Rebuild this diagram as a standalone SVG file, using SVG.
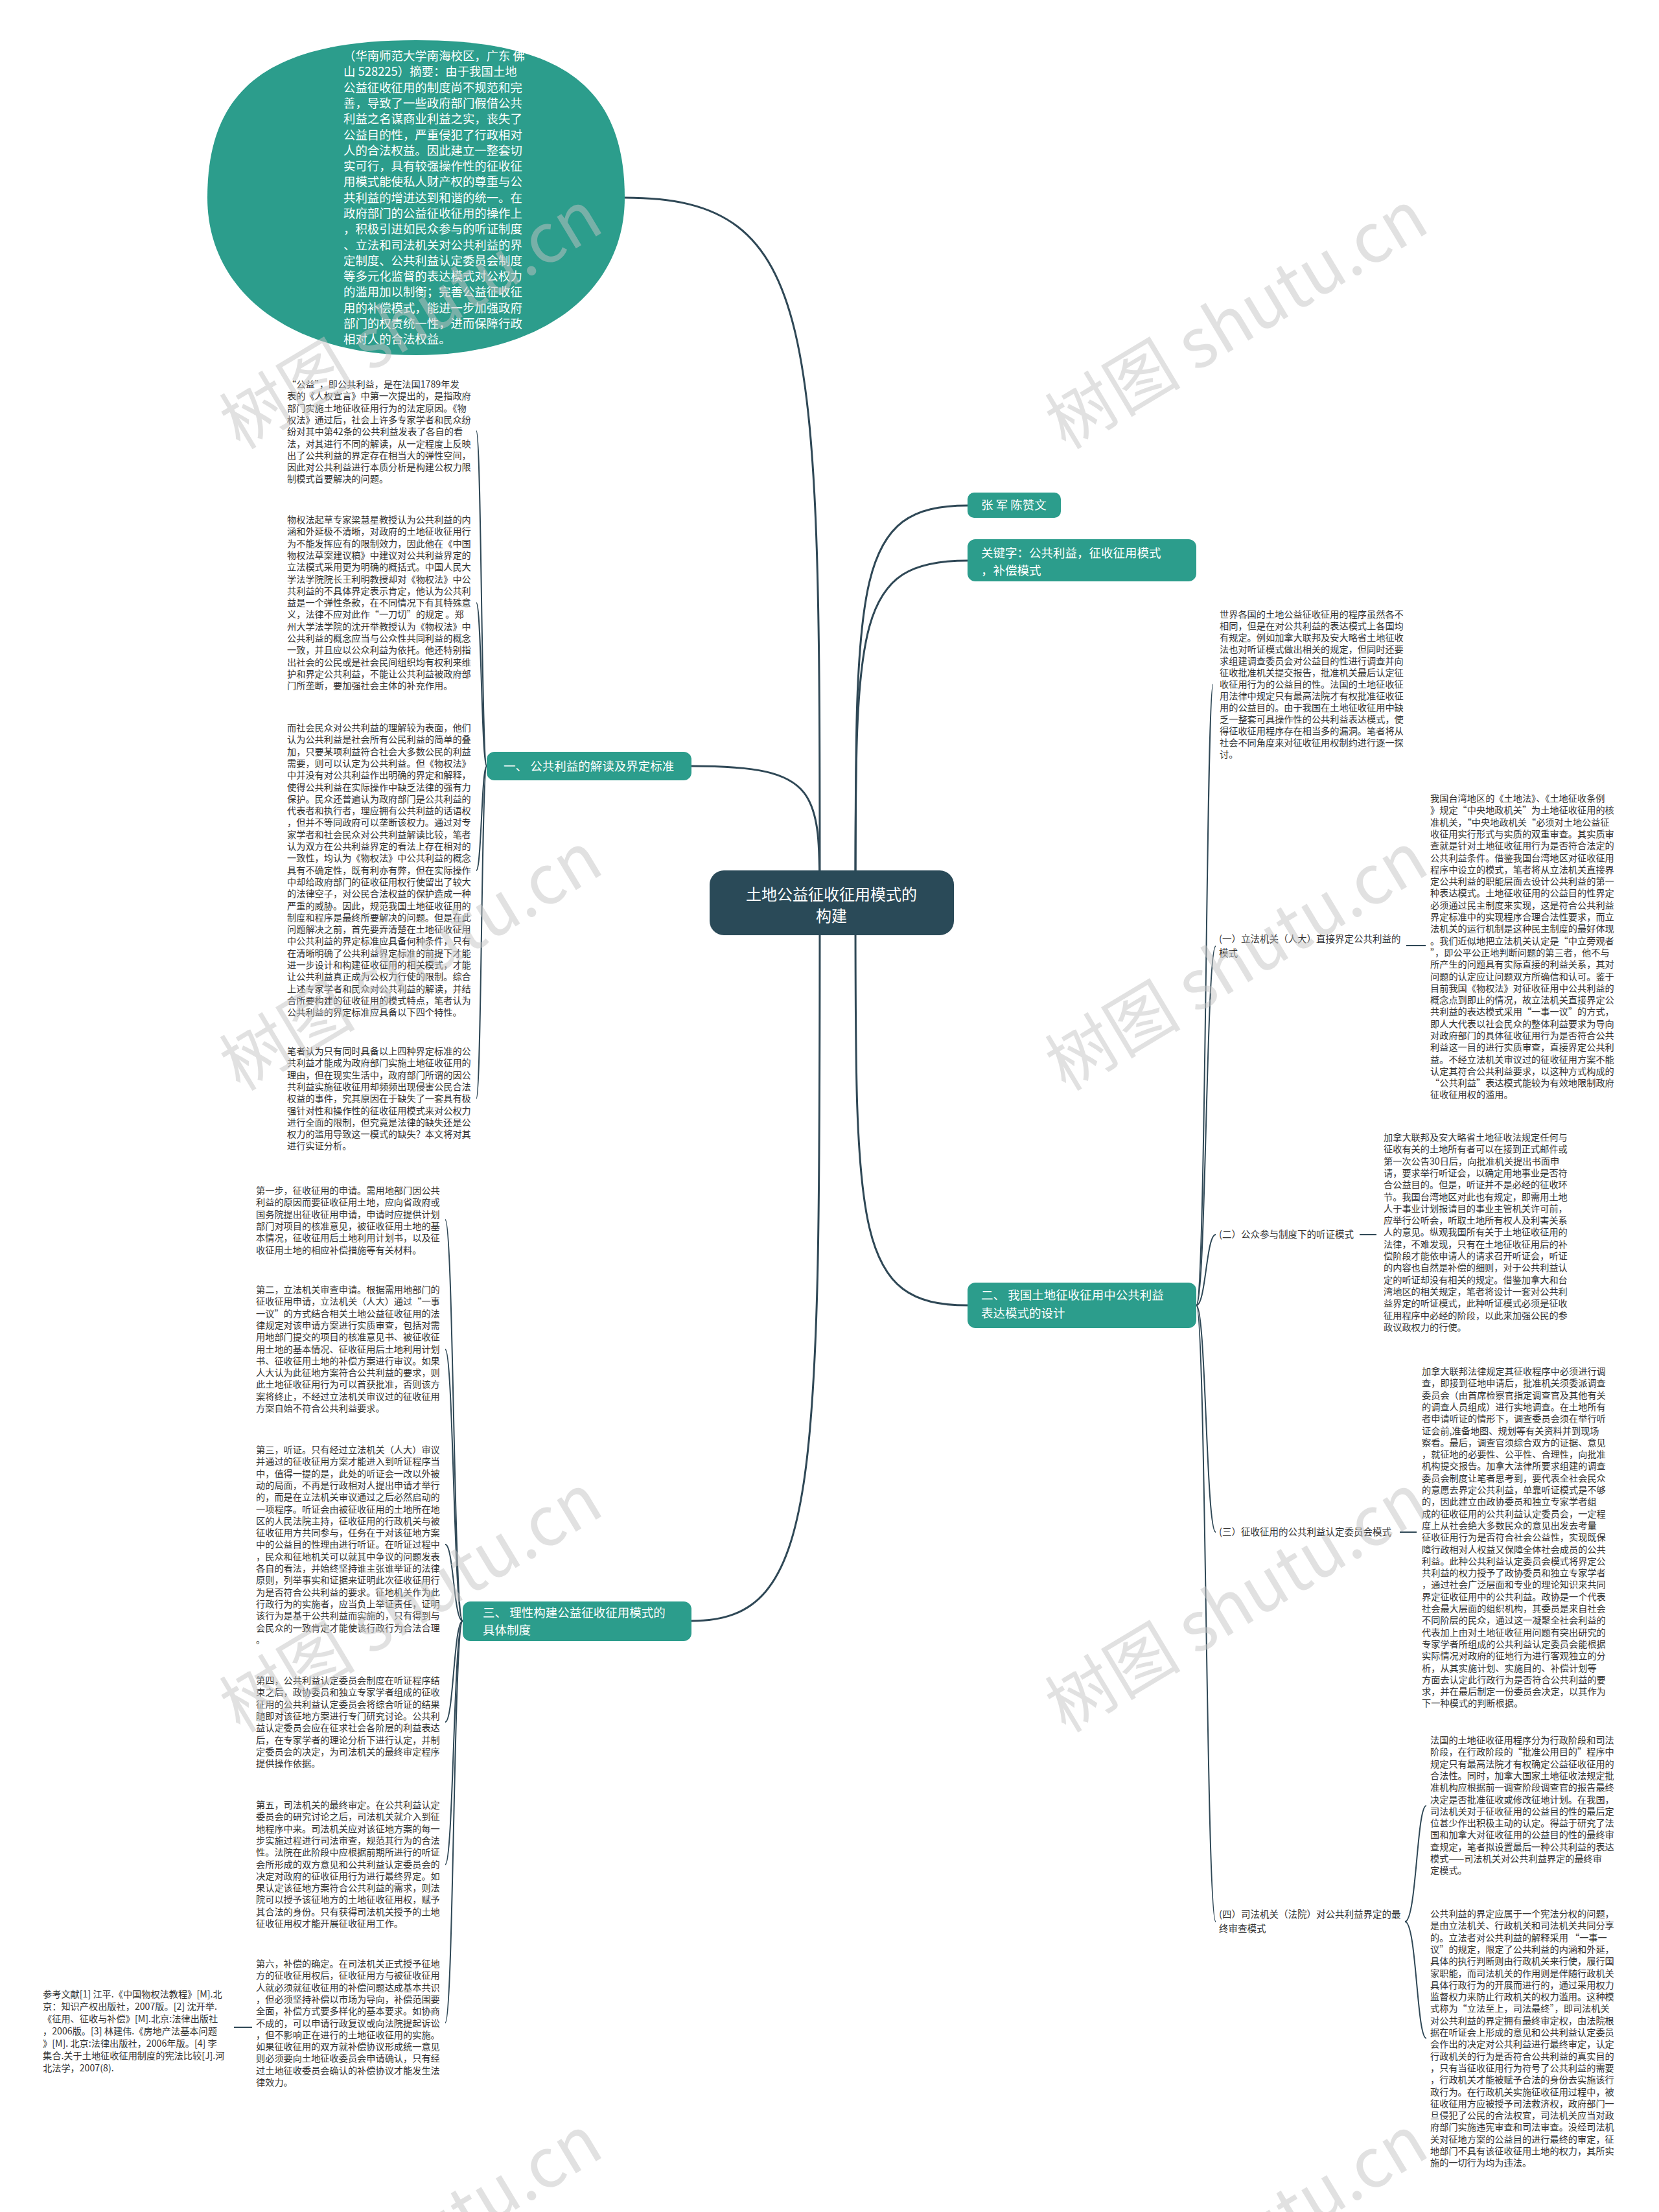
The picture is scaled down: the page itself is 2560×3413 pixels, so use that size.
<svg xmlns="http://www.w3.org/2000/svg" width="2560" height="3413" viewBox="0 0 2560 3413">
<style>
.t{font-family:"Noto Sans CJK SC","Noto Sans",sans-serif;font-size:14.2px;fill:#333}
.lb{font-family:"Noto Sans CJK SC","Noto Sans",sans-serif;font-size:14.5px;fill:#333}
.nt{font-family:"Noto Sans CJK SC","Noto Sans",sans-serif;font-size:18.5px;fill:#fff}
.et{font-family:"Noto Sans CJK SC","Noto Sans",sans-serif;font-size:18.4px;fill:#fff}
.rt{font-family:"Noto Sans CJK SC","Noto Sans",sans-serif;font-size:24px;fill:#fff}
.ln{fill:none;stroke:#2f4856;stroke-width:2}
.lr{fill:none;stroke:#2f4856;stroke-width:3}
.tn{fill:#2c9d8c}
.wm{font-family:"Noto Sans CJK SC","Noto Sans",sans-serif;font-size:105px;fill:#c4c4c4;opacity:.5}
</style>
<rect width="2560" height="3413" fill="#fff"/>
<g id="connectors">
<path class="lr" d="M1265 1393 C1265 501 1265 305 964 305"/>
<path class="lr" d="M1265 1393 C1265 1220 1265 1182 1067 1182"/>
<path class="lr" d="M1265 1393 C1265 2302 1265 2501 1067 2501"/>
<path class="lr" d="M1320 1393 C1320 890 1320 780 1493 780"/>
<path class="lr" d="M1320 1393 C1320 960 1320 865 1493 865"/>
<path class="lr" d="M1320 1393 C1320 1902 1320 2014 1493 2014"/>
<path class="ln" d="M751 1182 C743 1182 743 665 735 665"/>
<path class="ln" d="M751 1182 C743 1182 743 930 735 930"/>
<path class="ln" d="M751 1182 C743 1182 743 1343 735 1343"/>
<path class="ln" d="M751 1182 C743 1182 743 1695 735 1695"/>
<path class="ln" d="M714 2501 C700 2501 700 1882 687 1882"/>
<path class="ln" d="M714 2501 C700 2501 700 2082 687 2082"/>
<path class="ln" d="M714 2501 C700 2501 700 2383 687 2383"/>
<path class="ln" d="M714 2501 C700 2501 700 2657 687 2657"/>
<path class="ln" d="M714 2501 C700 2501 700 2877 687 2877"/>
<path class="ln" d="M714 2501 C700 2501 700 3121 687 3121"/>
<path class="ln" d="M389 3128 L361 3128"/>
<path class="ln" d="M1846 2014 C1861 2014 1861 1056 1872 1056"/>
<path class="ln" d="M1846 2014 C1861 2014 1861 1460 1876 1460"/>
<path class="ln" d="M1846 2014 C1861 2014 1861 1905 1876 1905"/>
<path class="ln" d="M1846 2014 C1861 2014 1861 2364 1876 2364"/>
<path class="ln" d="M1846 2014 C1861 2014 1861 2965 1876 2965"/>
<path class="ln" d="M2170 1459 L2200 1459"/>
<path class="ln" d="M2098 1905 L2124 1905"/>
<path class="ln" d="M2160 2364 L2186 2364"/>
<path class="ln" d="M2168 2965 C2186 2965 2186 2786 2201 2786"/>
<path class="ln" d="M2168 2965 C2186 2965 2186 3145 2201 3145"/>
</g>
<g id="root">
<rect x="1095" y="1343" width="377" height="100" rx="22" fill="#2a4a58"/>
<text class="rt" x="1283" text-anchor="middle"><tspan x="1283" y="1389">土地公益征收征用模式的</tspan><tspan x="1283" y="1422">构建</tspan></text>
</g>
<g id="abstract">
<path class="tn" d="M964 305 C964 135 867 62 642 62 C417 62 320 135 320 305 C320 451 449 548 642 548 C835 548 964 451 964 305 Z"/>
<text class="et"><tspan x="530" y="93">（华南师范大学南海校区，广东 佛</tspan><tspan x="530" dy="24.3">山 528225）摘要：由于我国土地</tspan><tspan x="530" dy="24.3">公益征收征用的制度尚不规范和完</tspan><tspan x="530" dy="24.3">善，导致了一些政府部门假借公共</tspan><tspan x="530" dy="24.3">利益之名谋商业利益之实，丧失了</tspan><tspan x="530" dy="24.3">公益目的性，严重侵犯了行政相对</tspan><tspan x="530" dy="24.3">人的合法权益。因此建立一整套切</tspan><tspan x="530" dy="24.3">实可行，具有较强操作性的征收征</tspan><tspan x="530" dy="24.3">用模式能使私人财产权的尊重与公</tspan><tspan x="530" dy="24.3">共利益的增进达到和谐的统一。在</tspan><tspan x="530" dy="24.3">政府部门的公益征收征用的操作上</tspan><tspan x="530" dy="24.3">，积极引进如民众参与的听证制度</tspan><tspan x="530" dy="24.3">、立法和司法机关对公共利益的界</tspan><tspan x="530" dy="24.3">定制度、公共利益认定委员会制度</tspan><tspan x="530" dy="24.3">等多元化监督的表达模式对公权力</tspan><tspan x="530" dy="24.3">的滥用加以制衡；完善公益征收征</tspan><tspan x="530" dy="24.3">用的补偿模式，能进一步加强政府</tspan><tspan x="530" dy="24.3">部门的权责统一性，进而保障行政</tspan><tspan x="530" dy="24.3">相对人的合法权益。</tspan></text>
</g>
<g id="author">
<rect class="tn" x="1493" y="760" width="144" height="39" rx="10"/>
<text class="nt" x="1514" y="786">张 军 陈赞文</text>
</g>
<g id="keywords">
<rect class="tn" x="1493" y="832" width="353" height="65" rx="12"/>
<text class="nt"><tspan x="1514" y="860">关键字：公共利益，征收征用模式</tspan><tspan x="1514" y="887">，补偿模式</tspan></text>
</g>
<g id="sec1">
<rect class="tn" x="751" y="1160" width="316" height="44" rx="12"/>
<text class="nt" x="777" y="1189">一、 公共利益的解读及界定标准</text>
</g>
<g id="sec2">
<rect class="tn" x="1493" y="1979" width="353" height="70" rx="12"/>
<text class="nt"><tspan x="1514" y="2005">二、 我国土地征收征用中公共利益</tspan><tspan x="1514" y="2033">表达模式的设计</tspan></text>
</g>
<g id="sec3">
<rect class="tn" x="714" y="2471" width="353" height="61" rx="12"/>
<text class="nt"><tspan x="745" y="2495">三、 理性构建公益征收征用模式的</tspan><tspan x="745" y="2522">具体制度</tspan></text>
</g>
<g id="l1"><text class="t"><tspan x="443" y="598">“公益”，即公共利益，是在法国1789年发</tspan><tspan x="443" dy="18.3">表的《人权宣言》中第一次提出的，是指政府</tspan><tspan x="443" dy="18.3">部门实施土地征收征用行为的法定原因。《物</tspan><tspan x="443" dy="18.3">权法》通过后，社会上许多专家学者和民众纷</tspan><tspan x="443" dy="18.3">纷对其中第42条的公共利益发表了各自的看</tspan><tspan x="443" dy="18.3">法，对其进行不同的解读，从一定程度上反映</tspan><tspan x="443" dy="18.3">出了公共利益的界定存在相当大的弹性空间，</tspan><tspan x="443" dy="18.3">因此对公共利益进行本质分析是构建公权力限</tspan><tspan x="443" dy="18.3">制模式首要解决的问题。</tspan></text></g>
<g id="l2"><text class="t"><tspan x="443" y="807">物权法起草专家梁慧星教授认为公共利益的内</tspan><tspan x="443" dy="18.3">涵和外延极不清晰，对政府的土地征收征用行</tspan><tspan x="443" dy="18.3">为不能发挥应有的限制效力，因此他在《中国</tspan><tspan x="443" dy="18.3">物权法草案建议稿》中建议对公共利益界定的</tspan><tspan x="443" dy="18.3">立法模式采用更为明确的概括式。中国人民大</tspan><tspan x="443" dy="18.3">学法学院院长王利明教授却对《物权法》中公</tspan><tspan x="443" dy="18.3">共利益的不具体界定表示肯定，他认为公共利</tspan><tspan x="443" dy="18.3">益是一个弹性条款，在不同情况下有其特殊意</tspan><tspan x="443" dy="18.3">义，法律不应对此作“一刀切”的规定 。郑</tspan><tspan x="443" dy="18.3">州大学法学院的沈开举教授认为《物权法》中</tspan><tspan x="443" dy="18.3">公共利益的概念应当与公众性共同利益的概念</tspan><tspan x="443" dy="18.3">一致，并且应以公众利益为依托。他还特别指</tspan><tspan x="443" dy="18.3">出社会的公民或是社会民间组织均有权利来维</tspan><tspan x="443" dy="18.3">护和界定公共利益，不能让公共利益被政府部</tspan><tspan x="443" dy="18.3">门所垄断，要加强社会主体的补充作用。</tspan></text></g>
<g id="l3"><text class="t"><tspan x="443" y="1128">而社会民众对公共利益的理解较为表面，他们</tspan><tspan x="443" dy="18.3">认为公共利益是社会所有公民利益的简单的叠</tspan><tspan x="443" dy="18.3">加，只要某项利益符合社会大多数公民的利益</tspan><tspan x="443" dy="18.3">需要，则可以认定为公共利益。但《物权法》</tspan><tspan x="443" dy="18.3">中并没有对公共利益作出明确的界定和解释，</tspan><tspan x="443" dy="18.3">使得公共利益在实际操作中缺乏法律的强有力</tspan><tspan x="443" dy="18.3">保护。民众还普遍认为政府部门是公共利益的</tspan><tspan x="443" dy="18.3">代表者和执行者，理应拥有公共利益的话语权</tspan><tspan x="443" dy="18.3">，但并不等同政府可以垄断该权力。通过对专</tspan><tspan x="443" dy="18.3">家学者和社会民众对公共利益解读比较，笔者</tspan><tspan x="443" dy="18.3">认为双方在公共利益界定的看法上存在相对的</tspan><tspan x="443" dy="18.3">一致性，均认为《物权法》中公共利益的概念</tspan><tspan x="443" dy="18.3">具有不确定性，既有利亦有弊，但在实际操作</tspan><tspan x="443" dy="18.3">中却给政府部门的征收征用权行使留出了较大</tspan><tspan x="443" dy="18.3">的法律空子，对公民合法权益的保护造成一种</tspan><tspan x="443" dy="18.3">严重的威胁。因此，规范我国土地征收征用的</tspan><tspan x="443" dy="18.3">制度和程序是最终所要解决的问题。但是在此</tspan><tspan x="443" dy="18.3">问题解决之前，首先要弄清楚在土地征收征用</tspan><tspan x="443" dy="18.3">中公共利益的界定标准应具备何种条件，只有</tspan><tspan x="443" dy="18.3">在清晰明确了公共利益界定标准的前提下才能</tspan><tspan x="443" dy="18.3">进一步设计和构建征收征用的相关模式，才能</tspan><tspan x="443" dy="18.3">让公共利益真正成为公权力行使的限制。综合</tspan><tspan x="443" dy="18.3">上述专家学者和民众对公共利益的解读，并结</tspan><tspan x="443" dy="18.3">合所要构建的征收征用的模式特点，笔者认为</tspan><tspan x="443" dy="18.3">公共利益的界定标准应具备以下四个特性。</tspan></text></g>
<g id="l4"><text class="t"><tspan x="443" y="1627">笔者认为只有同时具备以上四种界定标准的公</tspan><tspan x="443" dy="18.3">共利益才能成为政府部门实施土地征收征用的</tspan><tspan x="443" dy="18.3">理由，但在现实生活中，政府部门所谓的因公</tspan><tspan x="443" dy="18.3">共利益实施征收征用却频频出现侵害公民合法</tspan><tspan x="443" dy="18.3">权益的事件，究其原因在于缺失了一套具有极</tspan><tspan x="443" dy="18.3">强针对性和操作性的征收征用模式来对公权力</tspan><tspan x="443" dy="18.3">进行全面的限制，但究竟是法律的缺失还是公</tspan><tspan x="443" dy="18.3">权力的滥用导致这一模式的缺失？本文将对其</tspan><tspan x="443" dy="18.3">进行实证分析。</tspan></text></g>
<g id="s1"><text class="t"><tspan x="395" y="1842">第一步，征收征用的申请。需用地部门因公共</tspan><tspan x="395" dy="18.3">利益的原因而要征收征用土地，应向省政府或</tspan><tspan x="395" dy="18.3">国务院提出征收征用申请，申请时应提供计划</tspan><tspan x="395" dy="18.3">部门对项目的核准意见，被征收征用土地的基</tspan><tspan x="395" dy="18.3">本情况，征收征用后土地利用计划书，以及征</tspan><tspan x="395" dy="18.3">收征用土地的相应补偿措施等有关材料。</tspan></text></g>
<g id="s2"><text class="t"><tspan x="395" y="1995">第二，立法机关审查申请。根据需用地部门的</tspan><tspan x="395" dy="18.3">征收征用申请，立法机关（人大）通过“一事</tspan><tspan x="395" dy="18.3">一议”的方式结合相关土地公益征收征用的法</tspan><tspan x="395" dy="18.3">律规定对该申请方案进行实质审查，包括对需</tspan><tspan x="395" dy="18.3">用地部门提交的项目的核准意见书、被征收征</tspan><tspan x="395" dy="18.3">用土地的基本情况、征收征用后土地利用计划</tspan><tspan x="395" dy="18.3">书、征收征用土地的补偿方案进行审议。如果</tspan><tspan x="395" dy="18.3">人大认为此征地方案符合公共利益的要求，则</tspan><tspan x="395" dy="18.3">此土地征收征用行为可以首获批准，否则该方</tspan><tspan x="395" dy="18.3">案将终止，不经过立法机关审议过的征收征用</tspan><tspan x="395" dy="18.3">方案自始不符合公共利益要求。</tspan></text></g>
<g id="s3"><text class="t"><tspan x="395" y="2242">第三，听证。只有经过立法机关（人大）审议</tspan><tspan x="395" dy="18.3">并通过的征收征用方案才能进入到听证程序当</tspan><tspan x="395" dy="18.3">中，值得一提的是，此处的听证会一改以外被</tspan><tspan x="395" dy="18.3">动的局面，不再是行政相对人提出申请才举行</tspan><tspan x="395" dy="18.3">的，而是在立法机关审议通过之后必然启动的</tspan><tspan x="395" dy="18.3">一项程序。听证会由被征收征用的土地所在地</tspan><tspan x="395" dy="18.3">区的人民法院主持，征收征用的行政机关与被</tspan><tspan x="395" dy="18.3">征收征用方共同参与，任务在于对该征地方案</tspan><tspan x="395" dy="18.3">中的公益目的性理由进行听证。在听证过程中</tspan><tspan x="395" dy="18.3">，民众和征地机关可以就其中争议的问题发表</tspan><tspan x="395" dy="18.3">各自的看法，并始终坚持谁主张谁举证的法律</tspan><tspan x="395" dy="18.3">原则，列举事实和证据来证明此次征收征用行</tspan><tspan x="395" dy="18.3">为是否符合公共利益的要求。征地机关作为此</tspan><tspan x="395" dy="18.3">行政行为的实施者，应当负上举证责任，证明</tspan><tspan x="395" dy="18.3">该行为是基于公共利益而实施的，只有得到与</tspan><tspan x="395" dy="18.3">会民众的一致肯定才能使该行政行为合法合理</tspan><tspan x="395" dy="18.3">。</tspan></text></g>
<g id="s4"><text class="t"><tspan x="395" y="2598">第四，公共利益认定委员会制度在听证程序结</tspan><tspan x="395" dy="18.3">束之后，政协委员和独立专家学者组成的征收</tspan><tspan x="395" dy="18.3">征用的公共利益认定委员会将综合听证的结果</tspan><tspan x="395" dy="18.3">随即对该征地方案进行专门研究讨论。公共利</tspan><tspan x="395" dy="18.3">益认定委员会应在征求社会各阶层的利益表达</tspan><tspan x="395" dy="18.3">后，在专家学者的理论分析下进行认定，并制</tspan><tspan x="395" dy="18.3">定委员会的决定，为司法机关的最终审定程序</tspan><tspan x="395" dy="18.3">提供操作依据。</tspan></text></g>
<g id="s5"><text class="t"><tspan x="395" y="2790">第五，司法机关的最终审定。在公共利益认定</tspan><tspan x="395" dy="18.3">委员会的研究讨论之后，司法机关就介入到征</tspan><tspan x="395" dy="18.3">地程序中来。司法机关应对该征地方案的每一</tspan><tspan x="395" dy="18.3">步实施过程进行司法审查，规范其行为的合法</tspan><tspan x="395" dy="18.3">性。法院在此阶段中应根据前期所进行的听证</tspan><tspan x="395" dy="18.3">会所形成的双方意见和公共利益认定委员会的</tspan><tspan x="395" dy="18.3">决定对政府的征收征用行为进行最终界定。如</tspan><tspan x="395" dy="18.3">果认定该征地方案符合公共利益的需求，则法</tspan><tspan x="395" dy="18.3">院可以授予该征地方的土地征收征用权，赋予</tspan><tspan x="395" dy="18.3">其合法的身份。只有获得司法机关授予的土地</tspan><tspan x="395" dy="18.3">征收征用权才能开展征收征用工作。</tspan></text></g>
<g id="s6"><text class="t"><tspan x="395" y="3035">第六，补偿的确定。在司法机关正式授予征地</tspan><tspan x="395" dy="18.3">方的征收征用权后，征收征用方与被征收征用</tspan><tspan x="395" dy="18.3">人就必须就征收征用的补偿问题达成基本共识</tspan><tspan x="395" dy="18.3">，但必须坚持补偿以市场为导向，补偿范围要</tspan><tspan x="395" dy="18.3">全面，补偿方式要多样化的基本要求。如协商</tspan><tspan x="395" dy="18.3">不成的，可以申请行政复议或向法院提起诉讼</tspan><tspan x="395" dy="18.3">，但不影响正在进行的土地征收征用的实施。</tspan><tspan x="395" dy="18.3">如果征收征用的双方就补偿协议形成统一意见</tspan><tspan x="395" dy="18.3">则必须要向土地征收委员会申请确认，只有经</tspan><tspan x="395" dy="18.3">过土地征收委员会确认的补偿协议才能发生法</tspan><tspan x="395" dy="18.3">律效力。</tspan></text></g>
<g id="ref"><text class="t"><tspan x="66" y="3082">参考文献[1] 江平.《中国物权法教程》[M].北</tspan><tspan x="66" dy="19">京：知识产权出版社，2007版。[2] 沈开举.</tspan><tspan x="66" dy="19">《征用、征收与补偿》[M].北京:法律出版社</tspan><tspan x="66" dy="19">，2006版。[3] 林建伟.《房地产法基本问题</tspan><tspan x="66" dy="19">》[M]. 北京:法律出版社，2006年版。[4] 李</tspan><tspan x="66" dy="19">集合.关于土地征收征用制度的宪法比较[J].河</tspan><tspan x="66" dy="19">北法学，2007(8).</tspan></text></g>
<g id="intro"><text class="t"><tspan x="1882" y="953">世界各国的土地公益征收征用的程序虽然各不</tspan><tspan x="1882" dy="18">相同，但是在对公共利益的表达模式上各国均</tspan><tspan x="1882" dy="18">有规定。例如加拿大联邦及安大略省土地征收</tspan><tspan x="1882" dy="18">法也对听证模式做出相关的规定，但同时还要</tspan><tspan x="1882" dy="18">求组建调查委员会对公益目的性进行调查并向</tspan><tspan x="1882" dy="18">征收批准机关提交报告，批准机关最后认定征</tspan><tspan x="1882" dy="18">收征用行为的公益目的性。法国的土地征收征</tspan><tspan x="1882" dy="18">用法律中规定只有最高法院才有权批准征收征</tspan><tspan x="1882" dy="18">用的公益目的。由于我国在土地征收征用中缺</tspan><tspan x="1882" dy="18">乏一整套可具操作性的公共利益表达模式，使</tspan><tspan x="1882" dy="18">得征收征用程序存在相当多的漏洞。笔者将从</tspan><tspan x="1882" dy="18">社会不同角度来对征收征用权制约进行逐一探</tspan><tspan x="1882" dy="18">讨。</tspan></text></g>
<g id="label1"><text class="lb"><tspan x="1881" y="1454">(一）立法机关（人大）直接界定公共利益的</tspan><tspan x="1881" dy="22">模式</tspan></text></g>
<g id="label2"><text class="lb" x="1881" y="1910">(二）公众参与制度下的听证模式</text></g>
<g id="label3"><text class="lb" x="1881" y="2369">(三）征收征用的公共利益认定委员会模式</text></g>
<g id="label4"><text class="lb"><tspan x="1881" y="2959">(四）司法机关（法院）对公共利益界定的最</tspan><tspan x="1881" dy="22">终审查模式</tspan></text></g>
<g id="b1"><text class="t"><tspan x="2207" y="1237">我国台湾地区的《土地法》、《土地征收条例</tspan><tspan x="2207" dy="18.3">》规定“中央地政机关”为土地征收征用的核</tspan><tspan x="2207" dy="18.3">准机关，“中央地政机关“必须对土地公益征</tspan><tspan x="2207" dy="18.3">收征用实行形式与实质的双重审查。其实质审</tspan><tspan x="2207" dy="18.3">查就是针对土地征收征用行为是否符合法定的</tspan><tspan x="2207" dy="18.3">公共利益条件。借鉴我国台湾地区对征收征用</tspan><tspan x="2207" dy="18.3">程序中设立的模式，笔者将从立法机关直接界</tspan><tspan x="2207" dy="18.3">定公共利益的职能层面去设计公共利益的第一</tspan><tspan x="2207" dy="18.3">种表达模式。土地征收征用的公益目的性界定</tspan><tspan x="2207" dy="18.3">必须通过民主制度来实现，这是符合公共利益</tspan><tspan x="2207" dy="18.3">界定标准中的实现程序合理合法性要求，而立</tspan><tspan x="2207" dy="18.3">法机关的运行机制是这种民主制度的最好体现</tspan><tspan x="2207" dy="18.3">。我们近似地把立法机关认定是“中立旁观者</tspan><tspan x="2207" dy="18.3">”，即公平公正地判断问题的第三者，他不与</tspan><tspan x="2207" dy="18.3">所产生的问题具有实际直接的利益关系，其对</tspan><tspan x="2207" dy="18.3">问题的认定应让问题双方所确信和认可。鉴于</tspan><tspan x="2207" dy="18.3">目前我国《物权法》对征收征用中公共利益的</tspan><tspan x="2207" dy="18.3">概念点到即止的情况，故立法机关直接界定公</tspan><tspan x="2207" dy="18.3">共利益的表达模式采用“一事一议”的方式，</tspan><tspan x="2207" dy="18.3">即人大代表以社会民众的整体利益要求为导向</tspan><tspan x="2207" dy="18.3">对政府部门的具体征收征用行为是否符合公共</tspan><tspan x="2207" dy="18.3">利益这一目的进行实质审查，直接界定公共利</tspan><tspan x="2207" dy="18.3">益。不经立法机关审议过的征收征用方案不能</tspan><tspan x="2207" dy="18.3">认定其符合公共利益要求，以这种方式构成的</tspan><tspan x="2207" dy="18.3">“公共利益”表达模式能较为有效地限制政府</tspan><tspan x="2207" dy="18.3">征收征用权的滥用。</tspan></text></g>
<g id="b2"><text class="t"><tspan x="2135" y="1760">加拿大联邦及安大略省土地征收法规定任何与</tspan><tspan x="2135" dy="18.3">征收有关的土地所有者可以在接到正式邮件或</tspan><tspan x="2135" dy="18.3">第一次公告30日后，向批准机关提出书面申</tspan><tspan x="2135" dy="18.3">请，要求举行听证会，以确定用地事业是否符</tspan><tspan x="2135" dy="18.3">合公益目的。但是，听证并不是必经的征收环</tspan><tspan x="2135" dy="18.3">节。我国台湾地区对此也有规定，即需用土地</tspan><tspan x="2135" dy="18.3">人于事业计划报请目的事业主管机关许可前，</tspan><tspan x="2135" dy="18.3">应举行公听会，听取土地所有权人及利害关系</tspan><tspan x="2135" dy="18.3">人的意见。纵观我国所有关于土地征收征用的</tspan><tspan x="2135" dy="18.3">法律，不难发现，只有在土地征收征用后的补</tspan><tspan x="2135" dy="18.3">偿阶段才能依申请人的请求召开听证会，听证</tspan><tspan x="2135" dy="18.3">的内容也自然是补偿的细则，对于公共利益认</tspan><tspan x="2135" dy="18.3">定的听证却没有相关的规定。借鉴加拿大和台</tspan><tspan x="2135" dy="18.3">湾地区的相关规定，笔者将设计一套对公共利</tspan><tspan x="2135" dy="18.3">益界定的听证模式，此种听证模式必须是征收</tspan><tspan x="2135" dy="18.3">征用程序中必经的阶段，以此来加强公民的参</tspan><tspan x="2135" dy="18.3">政议政权力的行使。</tspan></text></g>
<g id="b3"><text class="t"><tspan x="2194" y="2121">加拿大联邦法律规定其征收程序中必须进行调</tspan><tspan x="2194" dy="18.3">查，即接到征地申请后，批准机关须委派调查</tspan><tspan x="2194" dy="18.3">委员会（由首席检察官指定调查官及其他有关</tspan><tspan x="2194" dy="18.3">的调查人员组成）进行实地调查。在土地所有</tspan><tspan x="2194" dy="18.3">者申请听证的情形下，调查委员会须在举行听</tspan><tspan x="2194" dy="18.3">证会前,准备地图、规划等有关资料并到现场</tspan><tspan x="2194" dy="18.3">察看。最后，调查官须综合双方的证据、意见</tspan><tspan x="2194" dy="18.3">，就征地的必要性、公平性、合理性，向批准</tspan><tspan x="2194" dy="18.3">机构提交报告。加拿大法律所要求组建的调查</tspan><tspan x="2194" dy="18.3">委员会制度让笔者思考到，要代表全社会民众</tspan><tspan x="2194" dy="18.3">的意愿去界定公共利益，单靠听证模式是不够</tspan><tspan x="2194" dy="18.3">的，因此建立由政协委员和独立专家学者组</tspan><tspan x="2194" dy="18.3">成的征收征用的公共利益认定委员会，一定程</tspan><tspan x="2194" dy="18.3">度上从社会绝大多数民众的意见出发去考量</tspan><tspan x="2194" dy="18.3">征收征用行为是否符合社会公益性，实现既保</tspan><tspan x="2194" dy="18.3">障行政相对人权益又保障全体社会成员的公共</tspan><tspan x="2194" dy="18.3">利益。此种公共利益认定委员会模式将界定公</tspan><tspan x="2194" dy="18.3">共利益的权力授予了政协委员和独立专家学者</tspan><tspan x="2194" dy="18.3">，通过社会广泛层面和专业的理论知识来共同</tspan><tspan x="2194" dy="18.3">界定征收征用中的公共利益。政协是一个代表</tspan><tspan x="2194" dy="18.3">社会最大层面的组织机构，其委员是来自社会</tspan><tspan x="2194" dy="18.3">不同阶层的民众，通过这一凝聚全社会利益的</tspan><tspan x="2194" dy="18.3">代表加上由对土地征收征用问题有突出研究的</tspan><tspan x="2194" dy="18.3">专家学者所组成的公共利益认定委员会能根据</tspan><tspan x="2194" dy="18.3">实际情况对政府的征地行为进行客观独立的分</tspan><tspan x="2194" dy="18.3">析，从其实施计划、实施目的、补偿计划等</tspan><tspan x="2194" dy="18.3">方面去认定此行政行为是否符合公共利益的要</tspan><tspan x="2194" dy="18.3">求，并在最后制定一份委员会决定，以其作为</tspan><tspan x="2194" dy="18.3">下一种模式的判断根据。</tspan></text></g>
<g id="b4a"><text class="t"><tspan x="2207" y="2690">法国的土地征收征用程序分为行政阶段和司法</tspan><tspan x="2207" dy="18.3">阶段，在行政阶段的“批准公用目的”程序中</tspan><tspan x="2207" dy="18.3">规定只有最高法院才有权确定公益征收征用的</tspan><tspan x="2207" dy="18.3">合法性。同时，加拿大国家土地征收法规定批</tspan><tspan x="2207" dy="18.3">准机构应根据前一调查阶段调查官的报告最终</tspan><tspan x="2207" dy="18.3">决定是否批准征收或修改征地计划。在我国，</tspan><tspan x="2207" dy="18.3">司法机关对于征收征用的公益目的性的最后定</tspan><tspan x="2207" dy="18.3">位甚少作出积极主动的认定。得益于研究了法</tspan><tspan x="2207" dy="18.3">国和加拿大对征收征用的公益目的性的最终审</tspan><tspan x="2207" dy="18.3">查规定，笔者拟设置最后一种公共利益的表达</tspan><tspan x="2207" dy="18.3">模式——司法机关对公共利益界定的最终审</tspan><tspan x="2207" dy="18.3">定模式。</tspan></text></g>
<g id="b4b"><text class="t"><tspan x="2207" y="2958">公共利益的界定应属于一个宪法分权的问题，</tspan><tspan x="2207" dy="18.3">是由立法机关、行政机关和司法机关共同分享</tspan><tspan x="2207" dy="18.3">的。立法者对公共利益的解释采用 “一事一</tspan><tspan x="2207" dy="18.3">议”的规定，限定了公共利益的内涵和外延，</tspan><tspan x="2207" dy="18.3">具体的执行判断则由行政机关来行使，履行国</tspan><tspan x="2207" dy="18.3">家职能，而司法机关的作用则是伴随行政机关</tspan><tspan x="2207" dy="18.3">具体行政行为的开展而进行的，通过采用权力</tspan><tspan x="2207" dy="18.3">监督权力来防止行政机关的权力滥用。这种模</tspan><tspan x="2207" dy="18.3">式称为“立法至上，司法最终”，即司法机关</tspan><tspan x="2207" dy="18.3">对公共利益的界定拥有最终审定权，由法院根</tspan><tspan x="2207" dy="18.3">据在听证会上形成的意见和公共利益认定委员</tspan><tspan x="2207" dy="18.3">会作出的决定对公共利益进行最终审定，认定</tspan><tspan x="2207" dy="18.3">行政机关的行为是否符合公共利益的真实目的</tspan><tspan x="2207" dy="18.3">，只有当征收征用行为符号了公共利益的需要</tspan><tspan x="2207" dy="18.3">，行政机关才能被赋予合法的身份去实施该行</tspan><tspan x="2207" dy="18.3">政行为。在行政机关实施征收征用过程中，被</tspan><tspan x="2207" dy="18.3">征收征用方应被授予司法救济权，政府部门一</tspan><tspan x="2207" dy="18.3">旦侵犯了公民的合法权宜，司法机关应当对政</tspan><tspan x="2207" dy="18.3">府部门实施违宪审查和司法审查。没经司法机</tspan><tspan x="2207" dy="18.3">关对征地方案的公益目的进行最终的审定，征</tspan><tspan x="2207" dy="18.3">地部门不具有该征收征用土地的权力，其所实</tspan><tspan x="2207" dy="18.3">施的一切行为均为违法。</tspan></text></g>
<g id="watermarks">
<text class="wm" transform="translate(653 525) rotate(-31)" text-anchor="middle">树图 shutu.cn</text>
<text class="wm" transform="translate(1927 525) rotate(-31)" text-anchor="middle">树图 shutu.cn</text>
<text class="wm" transform="translate(653 1515) rotate(-31)" text-anchor="middle">树图 shutu.cn</text>
<text class="wm" transform="translate(1927 1515) rotate(-31)" text-anchor="middle">树图 shutu.cn</text>
<text class="wm" transform="translate(653 2505) rotate(-31)" text-anchor="middle">树图 shutu.cn</text>
<text class="wm" transform="translate(1927 2505) rotate(-31)" text-anchor="middle">树图 shutu.cn</text>
<text class="wm" transform="translate(653 3495) rotate(-31)" text-anchor="middle">树图 shutu.cn</text>
<text class="wm" transform="translate(1927 3495) rotate(-31)" text-anchor="middle">树图 shutu.cn</text>
</g>
</svg>
